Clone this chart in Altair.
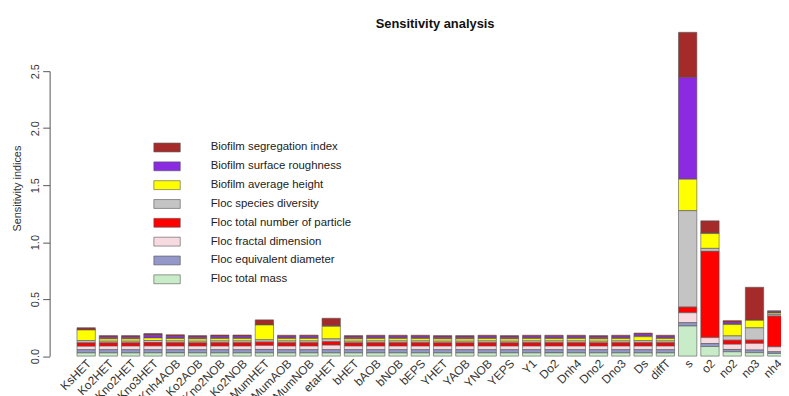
import altair as alt
import pandas as pd

params = ["KsHET", "Ko2HET", "Kno2HET", "Kno3HET", "Knh4AOB", "Ko2AOB", "Kno2NOB", "Ko2NOB",
          "MumHET", "MumAOB", "MumNOB", "etaHET", "bHET", "bAOB", "bNOB", "bEPS",
          "YHET", "YAOB", "YNOB", "YEPS", "Y1", "Do2", "Dnh4", "Dno2", "Dno3", "Ds", "diffT",
          "s", "o2", "no2", "no3", "nh4"]

# legend order (top to bottom)
components = ["Biofilm segregation index", "Biofilm surface roughness", "Biofilm average height",
              "Floc species diversity", "Floc total number of particle", "Floc fractal dimension",
              "Floc equivalent diameter", "Floc total mass"]
colors = ["#a52a2a", "#8a2be2", "#ffff00", "#c4c4c4", "#ff0000", "#f7d9e0", "#9498c8", "#c8ecc8"]

bio_segregation = [0.020, 0.014, 0.014, 0.014, 0.014, 0.014, 0.014, 0.014,
                   0.045, 0.014, 0.014, 0.066, 0.014, 0.014, 0.014, 0.014,
                   0.014, 0.014, 0.014, 0.014, 0.014, 0.014, 0.014, 0.014, 0.014, 0.012, 0.014,
                   0.397, 0.107, 0.017, 0.290, 0.008]
bio_surface_rough = [0.000, 0.015, 0.015, 0.025, 0.020, 0.015, 0.018, 0.018,
                     0.000, 0.016, 0.016, 0.005, 0.015, 0.016, 0.016, 0.016,
                     0.015, 0.015, 0.016, 0.015, 0.016, 0.016, 0.016, 0.015, 0.016, 0.020, 0.016,
                     0.892, 0.005, 0.017, 0.000, 0.012]
bio_avg_height = [0.093, 0.020, 0.020, 0.022, 0.020, 0.020, 0.020, 0.020,
                  0.130, 0.020, 0.021, 0.110, 0.020, 0.020, 0.020, 0.020,
                  0.020, 0.020, 0.020, 0.020, 0.020, 0.020, 0.020, 0.020, 0.020, 0.035, 0.020,
                  0.276, 0.130, 0.100, 0.066, 0.012]
floc_species_div = [0.020, 0.015, 0.015, 0.018, 0.016, 0.015, 0.016, 0.016,
                    0.020, 0.016, 0.016, 0.025, 0.015, 0.016, 0.016, 0.016,
                    0.015, 0.015, 0.016, 0.015, 0.016, 0.016, 0.016, 0.015, 0.016, 0.018, 0.016,
                    0.846, 0.026, 0.038, 0.108, 0.015]
floc_num_particle = [0.030, 0.028, 0.028, 0.030, 0.029, 0.028, 0.029, 0.029,
                     0.030, 0.029, 0.029, 0.030, 0.028, 0.029, 0.029, 0.029,
                     0.028, 0.028, 0.029, 0.028, 0.029, 0.029, 0.029, 0.028, 0.029, 0.029, 0.029,
                     0.050, 0.757, 0.035, 0.029, 0.270]
floc_fractal_dim = [0.030, 0.032, 0.032, 0.033, 0.032, 0.032, 0.032, 0.032,
                    0.035, 0.032, 0.032, 0.040, 0.032, 0.032, 0.032, 0.032,
                    0.032, 0.032, 0.032, 0.032, 0.032, 0.032, 0.032, 0.032, 0.032, 0.032, 0.032,
                    0.087, 0.052, 0.046, 0.058, 0.043]
floc_equiv_diameter = [0.028, 0.028, 0.028, 0.028, 0.028, 0.028, 0.028, 0.028,
                       0.030, 0.028, 0.028, 0.028, 0.028, 0.028, 0.028, 0.028,
                       0.028, 0.028, 0.028, 0.028, 0.028, 0.028, 0.028, 0.028, 0.028, 0.028, 0.028,
                       0.029, 0.026, 0.020, 0.023, 0.015]
floc_total_mass = [0.028, 0.028, 0.028, 0.028, 0.028, 0.028, 0.028, 0.028,
                   0.028, 0.028, 0.028, 0.028, 0.028, 0.028, 0.028, 0.028,
                   0.028, 0.028, 0.028, 0.028, 0.028, 0.028, 0.028, 0.028, 0.028, 0.028, 0.028,
                   0.264, 0.084, 0.038, 0.030, 0.023]

series = [bio_segregation, bio_surface_rough, bio_avg_height, floc_species_div,
          floc_num_particle, floc_fractal_dim, floc_equiv_diameter, floc_total_mass]

rows = []
for j, (comp, vals) in enumerate(zip(components, series)):
    for p, v in zip(params, vals):
        rows.append({"param": p, "component": comp, "value": v,
                     "stack_order": len(components) - 1 - j})
df = pd.DataFrame(rows)

FONT = "Liberation Sans"

chart = alt.Chart(df).mark_bar(stroke="#555555", strokeWidth=0.6).encode(
    x=alt.X("param:N", sort=params,
            scale=alt.Scale(range=[0, 743], paddingInner=0.177, paddingOuter=0.614,
                            align=1, round=False),
            axis=alt.Axis(title=None, labelAngle=-45, labelAlign="right", labelBaseline="middle",
                          domain=False, ticks=False, labelPadding=5, labelOffset=3,
                          labelFontSize=12, labelColor="#333333", labelFont=FONT,
                          labelOverlap=False)),
    y=alt.Y("value:Q", stack="zero",
            scale=alt.Scale(domain=[0, 2.5], nice=False),
            axis=alt.Axis(values=[0, 0.5, 1.0, 1.5, 2.0, 2.5], format=".1f",
                          title="Sensitivity indices", grid=False,
                          labelAngle=270, labelAlign="center", labelBaseline="bottom",
                          tickSize=7, labelPadding=2, labelFontSize=11, labelFont=FONT,
                          labelColor="#333333", domainColor="#555555", tickColor="#555555",
                          titleFont=FONT, titleFontSize=11, titleFontWeight="normal",
                          titleColor="#333333", titleAngle=270, titleX=-32, titleY=118,
                          titleAlign="center", titleBaseline="middle")),
    color=alt.Color("component:N",
                    scale=alt.Scale(domain=components, range=colors),
                    legend=alt.Legend(orient="none", legendX=111.5, legendY=70, title=None,
                                      symbolType="M-2.05,-0.69H2.05V0.69H-2.05Z",
                                      symbolSize=169, symbolStrokeColor="#555555",
                                      symbolStrokeWidth=0.6, labelOffset=37, rowPadding=6,
                                      labelFontSize=11.5, labelFont=FONT, labelColor="#222222",
                                      padding=0, symbolOpacity=1, labelLimit=300)),
    order=alt.Order("stack_order:Q", sort="ascending"),
).properties(
    width=738,
    height=287.5,
    title=alt.TitleParams("Sensitivity analysis", font=FONT, fontSize=13, fontWeight="bold",
                          color="#111111", anchor="middle", dx=20, offset=-9,
                          baseline="alphabetic"),
    autosize=alt.AutoSizeParams(type="none"),
    padding={"left": 42, "top": 62, "right": 0, "bottom": 38},
).configure_view(stroke=None)

chart.save("out.html", embed_options={"renderer": "svg", "actions": False})
